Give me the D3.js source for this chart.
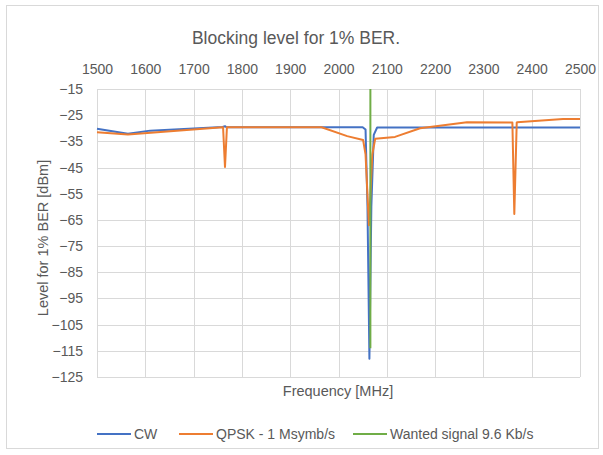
<!DOCTYPE html>
<html>
<head>
<meta charset="utf-8">
<script src="https://cdn.jsdelivr.net/npm/d3@7"></script>
<style>
  body { margin: 0; background: #fff; }
  svg text { font-family: "Liberation Sans", Arial, sans-serif; fill: #595959; }
</style>
</head>
<body>
<svg id="chart" width="603" height="455"></svg>
<script>
// ------------------------------------------------------------------
// data
// ------------------------------------------------------------------
const xTicks = [1500, 1600, 1700, 1800, 1900, 2000, 2100, 2200, 2300, 2400, 2500];
const yTicks = [-15, -25, -35, -45, -55, -65, -75, -85, -95, -105, -115, -125];

const cwFreq  = [1500, 1564, 1610, 1760, 1765, 1768, 2050, 2056, 2060, 2064, 2068, 2073, 2080, 2500];
const cwLevel = [-30.2, -32.1, -30.9, -29.5, -29.2, -29.6, -29.6, -30.5, -60, -118, -60, -32.5, -29.7, -29.7];

const qpskFreq  = [1500, 1564, 1760, 1761, 1765, 1769, 1770, 1965, 2018, 2051, 2056, 2063, 2070, 2076, 2117, 2169, 2266, 2360, 2364, 2369, 2370, 2465, 2500];
const qpskLevel = [-31.5, -32.4, -29.6, -29.6, -44.8, -29.6, -29.6, -29.6, -33, -34.5, -40, -67, -40, -34, -33.3, -30, -27.7, -27.8, -62.7, -27.8, -27.7, -26.5, -26.5];

const wantedFreq  = [2066, 2066];
const wantedLevel = [-15, -114];

const seriesNames  = ["CW", "QPSK - 1 Msymb/s", "Wanted signal 9.6 Kb/s"];
const seriesColors = ["#4472C4", "#ED7D31", "#70AD47"];

// ------------------------------------------------------------------
// layout
// ------------------------------------------------------------------
const svg = d3.select("#chart");
const plot = { left: 97, right: 580, top: 89, bottom: 377 };

const x = d3.scaleLinear().domain([1500, 2500]).range([plot.left, plot.right]);
const y = d3.scaleLinear().domain([-125, -15]).range([plot.bottom, plot.top]);

// chart border
svg.append("rect")
  .attr("x", 6.5).attr("y", 5.5)
  .attr("width", 592).attr("height", 443)
  .attr("fill", "none").attr("stroke", "#d9d9d9");

// title
svg.append("text")
  .attr("x", 296).attr("y", 44)
  .attr("text-anchor", "middle")
  .attr("font-size", 17.5)
  .text("Blocking level for 1% BER.");

// gridlines
const grid = svg.append("g").attr("stroke", "#d9d9d9").attr("stroke-width", 1);
grid.selectAll("line.v").data(xTicks).join("line")
  .attr("class", "v")
  .attr("x1", d => Math.round(x(d)) + 0.5).attr("x2", d => Math.round(x(d)) + 0.5)
  .attr("y1", plot.top).attr("y2", plot.bottom);
grid.selectAll("line.h").data(yTicks).join("line")
  .attr("class", "h")
  .attr("x1", plot.left).attr("x2", plot.right)
  .attr("y1", d => Math.round(y(d)) + 0.5).attr("y2", d => Math.round(y(d)) + 0.5);

// axes (labels only, Excel style)
const xAxis = svg.append("g")
  .attr("transform", `translate(0,${plot.top})`)
  .call(d3.axisTop(x).tickValues(xTicks).tickFormat(d3.format("d")).tickSize(0).tickPadding(15));
const yAxis = svg.append("g")
  .attr("transform", `translate(${plot.left},0)`)
  .call(d3.axisLeft(y).tickValues(yTicks).tickFormat(d3.format("d")).tickSize(0).tickPadding(14));
[xAxis, yAxis].forEach(g => {
  g.select(".domain").remove();
  g.selectAll("text")
    .attr("font-size", 14)
    .attr("font-family", "'Liberation Sans', Arial, sans-serif")
    .attr("fill", "#595959");
});

// axis titles
svg.append("text")
  .attr("x", 338).attr("y", 396)
  .attr("text-anchor", "middle")
  .attr("font-size", 14.5)
  .text("Frequency [MHz]");
svg.append("text")
  .attr("transform", "translate(48,238) rotate(-90)")
  .attr("text-anchor", "middle")
  .attr("font-size", 14.5)
  .text("Level for 1% BER [dBm]");

// series
const line = d3.line().x(d => x(d[0])).y(d => y(d[1]));
const series = [
  d3.zip(cwFreq, cwLevel),
  d3.zip(qpskFreq, qpskLevel),
  d3.zip(wantedFreq, wantedLevel),
];
svg.append("g")
  .selectAll("path")
  .data(series)
  .join("path")
  .attr("d", line)
  .attr("fill", "none")
  .attr("stroke", (d, i) => seriesColors[i])
  .attr("stroke-width", 2)
  .attr("stroke-linejoin", "round");

// legend
const legendX = [97, 179, 353];
const legend = svg.append("g")
  .selectAll("g")
  .data(seriesNames)
  .join("g")
  .attr("transform", (d, i) => `translate(${legendX[i]},434)`);
legend.append("line")
  .attr("x1", 0).attr("x2", 34)
  .attr("stroke", (d, i) => seriesColors[i])
  .attr("stroke-width", 2);
legend.append("text")
  .attr("x", 37).attr("dy", "0.35em")
  .attr("font-size", 14)
  .text(d => d);
</script>
</body>
</html>
